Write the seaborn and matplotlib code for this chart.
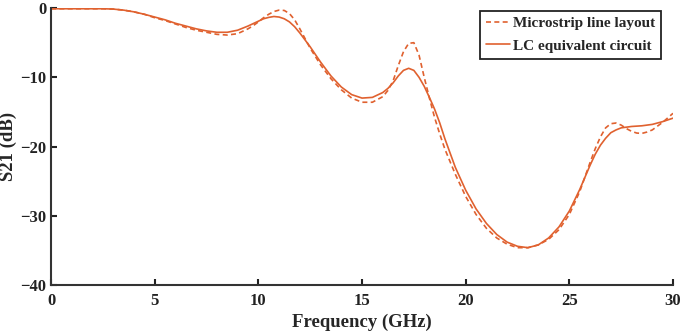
import matplotlib
matplotlib.use("Agg")
import matplotlib.pyplot as plt
import numpy as np
import pandas as pd
import seaborn as sns

# Frequency grid (GHz); denser around the resonances
freq = [0.0, 0.5, 1.0, 1.5, 2.0, 2.5, 3.0, 3.5, 4.0, 4.5,
        5.0, 5.5, 6.0, 6.5, 7.0, 7.5, 8.0, 8.5, 9.0,
        9.5, 9.75, 10.0, 10.25, 10.5, 10.75, 11.0, 11.25, 11.5, 11.75, 12.0, 12.25,
        12.5, 13.0, 13.5, 14.0, 14.5, 15.0, 15.5,
        16.0, 16.25, 16.5, 16.75, 17.0, 17.25, 17.5, 17.75, 18.0, 18.25, 18.5, 18.75,
        19.0, 19.5, 20.0, 20.5, 21.0, 21.5, 22.0, 22.5, 23.0, 23.5, 24.0, 24.5, 25.0, 25.5,
        26.0, 26.25, 26.5, 26.75, 27.0, 27.25, 27.5, 27.75, 28.0, 28.25, 28.5, 28.75,
        29.0, 29.5, 30.0]

# S21 (dB) of the microstrip line layout (dashed)
s21_microstrip = [-0.1, -0.1, -0.1, -0.1, -0.1, -0.1, -0.15, -0.3, -0.55, -0.9,
                  -1.4, -1.8, -2.3, -2.8, -3.2, -3.5, -3.8, -3.9, -3.7,
                  -3.0, -2.55, -2.0, -1.4, -0.9, -0.5, -0.3, -0.35, -0.8, -1.7, -3.0, -4.4,
                  -5.8, -8.2, -10.2, -11.8, -13.0, -13.6, -13.6,
                  -12.8, -11.9, -10.5, -8.3, -6.3, -5.1, -5.0, -6.8, -10.0, -13.0, -15.8, -18.2,
                  -20.4, -24.0, -27.2, -29.8, -31.8, -33.2, -34.1, -34.6, -34.6, -34.2, -33.4, -32.0, -29.8, -26.5,
                  -22.3, -20.3, -18.6, -17.3, -16.7, -16.6, -16.9, -17.4, -17.8, -18.05, -18.1, -17.9,
                  -17.6, -16.5, -15.2]

# S21 (dB) of the LC equivalent circuit (solid)
s21_lc = [-0.1, -0.1, -0.1, -0.1, -0.1, -0.1, -0.15, -0.3, -0.55, -0.9,
          -1.3, -1.7, -2.2, -2.6, -3.0, -3.3, -3.5, -3.5, -3.2,
          -2.6, -2.25, -1.9, -1.55, -1.35, -1.22, -1.3, -1.55, -2.0, -2.7, -3.6, -4.6,
          -5.6, -7.8, -9.8, -11.4, -12.5, -13.0, -12.9,
          -12.2, -11.6, -10.8, -9.8, -9.0, -8.7, -9.0, -10.0, -11.3, -12.9, -14.6, -16.6,
          -18.9, -23.0, -26.3, -29.0, -31.1, -32.7, -33.8, -34.4, -34.6, -34.2, -33.2, -31.6, -29.3, -26.2,
          -22.7, -21.1, -19.8, -18.8, -18.0, -17.6, -17.3, -17.2, -17.1, -17.05, -17.0, -16.9,
          -16.8, -16.4, -15.9]

labels = ["Microstrip line layout", "LC equivalent circuit"]

df = pd.concat([
    pd.DataFrame({"freq": freq, "s21": s21_microstrip, "src": labels[0]}),
    pd.DataFrame({"freq": freq, "s21": s21_lc, "src": labels[1]}),
])

sns.set_style("ticks")
plt.rcParams["font.family"] = ["Liberation Serif", "DejaVu Serif"]
plt.rcParams["font.weight"] = "bold"

color = "#E0612F"
fig = plt.figure(figsize=(6.85, 3.35), dpi=100)
ax = fig.add_axes([0.0745, 0.149, 0.908, 0.827])

sns.lineplot(data=df, x="freq", y="s21", hue="src", style="src",
             palette={labels[0]: color, labels[1]: color},
             dashes={labels[0]: (3, 2), labels[1]: ""},
             linewidth=1.2, ax=ax)

ax.set_xlim(0, 30)
ax.set_ylim(-40, 0)
ax.set_xticks([0, 5, 10, 15, 20, 25, 30])
ax.set_yticks([0, -10, -20, -30, -40])
ax.tick_params(direction="in", length=4, width=1.5, labelsize=12, colors="#222222")
ax.tick_params(axis="x", pad=6)
for lab in ax.get_xticklabels() + ax.get_yticklabels():
    lab.set_fontweight("bold")
ax.set_xlabel("Frequency (GHz)", fontsize=13.5, fontweight="bold", labelpad=3)
ax.set_ylabel("S21 (dB)", fontsize=13.5, fontweight="bold", labelpad=2)
sns.despine(ax=ax)
for sp in ["left", "bottom"]:
    ax.spines[sp].set_linewidth(1.5)
    ax.spines[sp].set_color("#333333")

leg = ax.legend(loc="upper right", bbox_to_anchor=(0.993, 1.018), frameon=True,
                fancybox=False, edgecolor="#222222", framealpha=1,
                prop={"weight": "bold", "size": 11}, handlelength=1.6,
                handletextpad=0.15, borderpad=0.4, labelspacing=0.55)
leg.get_frame().set_linewidth(1.3)
leg.set_title(None)

fig.savefig("out.png", dpi=100)
